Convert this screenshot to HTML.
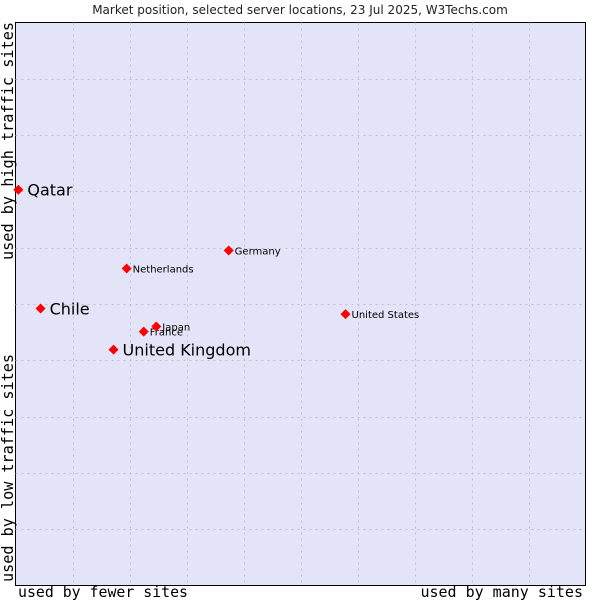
<!DOCTYPE html>
<html><head><meta charset="utf-8"><style>
body{margin:0;background:#fff;width:600px;height:600px;overflow:hidden}
svg{display:block}
</style></head><body>
<svg id="chart" width="600" height="600" xmlns="http://www.w3.org/2000/svg">
<text x="300" y="14" text-anchor="middle" font-family="DejaVu Sans, sans-serif" font-size="12" fill="#222">Market position, selected server locations, 23 Jul 2025, W3Techs.com</text>
<rect x="15.5" y="22.5" width="570" height="563" fill="#e4e4f8" stroke="#000" stroke-width="1"/>
<g id="grid"></g>
<g id="points"></g>
<text x="18" y="597" textLength="170" lengthAdjust="spacingAndGlyphs" font-family="DejaVu Sans Mono, monospace" font-size="15" fill="#000">used by fewer sites</text>
<text x="583" y="597" text-anchor="end" font-family="DejaVu Sans Mono, monospace" font-size="15" fill="#000">used by many sites</text>
<text transform="translate(13,582) rotate(-90)" textLength="228" lengthAdjust="spacingAndGlyphs" font-family="DejaVu Sans Mono, monospace" font-size="16" fill="#000">used by low traffic sites</text>
<text transform="translate(13,260) rotate(-90)" textLength="238" lengthAdjust="spacingAndGlyphs" font-family="DejaVu Sans Mono, monospace" font-size="16" fill="#000">used by high traffic sites</text>
</svg>
<script>
const countries=["Qatar","Chile","United Kingdom","France","Japan","Netherlands","Germany","United States"];
const xValues=[0.005,0.044,0.172,0.225,0.247,0.195,0.374,0.579];
const yValues=[0.703,0.492,0.419,0.451,0.460,0.563,0.595,0.482];
const bigLabel=[true,true,true,false,false,false,false,false];
const L=15.5,T=22.5,W=570,H=563;
const sx=v=>L+v*W, sy=v=>T+H-v*H;
const NS="http://www.w3.org/2000/svg";
const grid=document.getElementById('grid');
for(let i=1;i<10;i++){
  const v=document.createElementNS(NS,'line');
  const x=Math.round(sx(i/10))+0.5;
  v.setAttribute('x1',x);v.setAttribute('x2',x);v.setAttribute('y1',T);v.setAttribute('y2',T+H);
  v.setAttribute('stroke','#c0c0c8');v.setAttribute('stroke-dasharray','2,4');
  
  
  grid.appendChild(v);
  const h=document.createElementNS(NS,'line');
  const y=Math.round(sy(i/10))+0.5;
  h.setAttribute('x1',L);h.setAttribute('x2',L+W);h.setAttribute('y1',y);h.setAttribute('y2',y);
  h.setAttribute('stroke','#c0c0c8');h.setAttribute('stroke-dasharray','2,4');
  
  
  grid.appendChild(h);
}
const pts=document.getElementById('points');
countries.forEach((c,i)=>{
  const x=sx(xValues[i]),y=sy(yValues[i]);
  const p=document.createElementNS(NS,'polygon');
  p.setAttribute('points',`${x},${y-5} ${x+5},${y} ${x},${y+5} ${x-5},${y}`);
  p.setAttribute('fill','#ff0000');
  
  
  pts.appendChild(p);
  const t=document.createElementNS(NS,'text');
  const big=bigLabel[i];
  t.setAttribute('x',x+(big?9:6));
  t.setAttribute('y',y+(big?6:4));
  t.setAttribute('font-family','DejaVu Sans, sans-serif');
  t.setAttribute('font-size',big?'16':'10');
  t.setAttribute('fill','#000');
  t.textContent=c;
  
  
  pts.appendChild(t);
});
</script>
</body></html>
